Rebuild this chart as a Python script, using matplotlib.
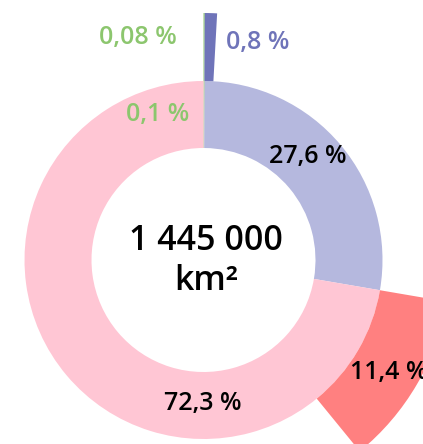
import matplotlib.pyplot as plt

plt.rcParams['font.family'] = ['Open Sans', 'DejaVu Sans']

# inner ring: share of the total area
ring_labels = ['0,1 %', '27,6 %', '72,3 %']
ring_values = [0.1, 27.6, 72.3]
ring_colors = ['#8cc66e', '#b5b8de', '#ffc6d4']

# outer breakdown pieces (blank parts keep them in place)
outer_labels = ['0,08 %', '0,8 %', '', '11,4 %', '']
outer_values = [0.08, 0.8, 26.82, 11.4, 60.9]
outer_colors = ['#8cc66e', '#6f74b9', 'none', '#ff8080', 'none']

total_text = '1 445 000\nkm²'

fig = plt.figure(figsize=(4.23, 4.44), dpi=100)
ax = fig.add_axes([0, 0, 1, 1])

cx, cy = 203.5, 184
ax.pie(ring_values, colors=ring_colors, startangle=90, counterclock=False,
       radius=179, center=(cx, cy), frame=True,
       wedgeprops=dict(width=67, linewidth=0))
ax.pie(outer_values, colors=outer_colors, startangle=90, counterclock=False,
       radius=247, center=(cx, cy), frame=True,
       wedgeprops=dict(width=68, linewidth=0))
ax.set_xlim(0, 423)
ax.set_ylim(0, 444)
ax.set_aspect('equal')
ax.axis('off')

fs = 18
ax.text(138, 444 - 38, outer_labels[0], color='#8cc66e', fontsize=fs,
        fontweight='semibold', ha='center', va='center')
ax.text(258, 444 - 43, outer_labels[1], color='#6f74b9', fontsize=fs,
        fontweight='semibold', ha='center', va='center')
ax.text(158, 444 - 115, ring_labels[0], color='#8cc66e', fontsize=fs,
        fontweight='semibold', ha='center', va='center')
ax.text(308, 444 - 157, ring_labels[1], color='black', fontsize=fs,
        fontweight='semibold', ha='center', va='center')
# this label runs past the right edge
ax.text(350, 444 - 372, outer_labels[3], color='black', fontsize=fs,
        fontweight='semibold', ha='left', va='center')
ax.text(203, 444 - 403, ring_labels[2], color='black', fontsize=fs,
        fontweight='semibold', ha='center', va='center')
ax.text(206, 444 - 261, total_text, color='black', fontsize=24.5,
        fontweight='semibold', ha='center', va='center', linespacing=1.25)

fig.savefig('out.png', dpi=100)
